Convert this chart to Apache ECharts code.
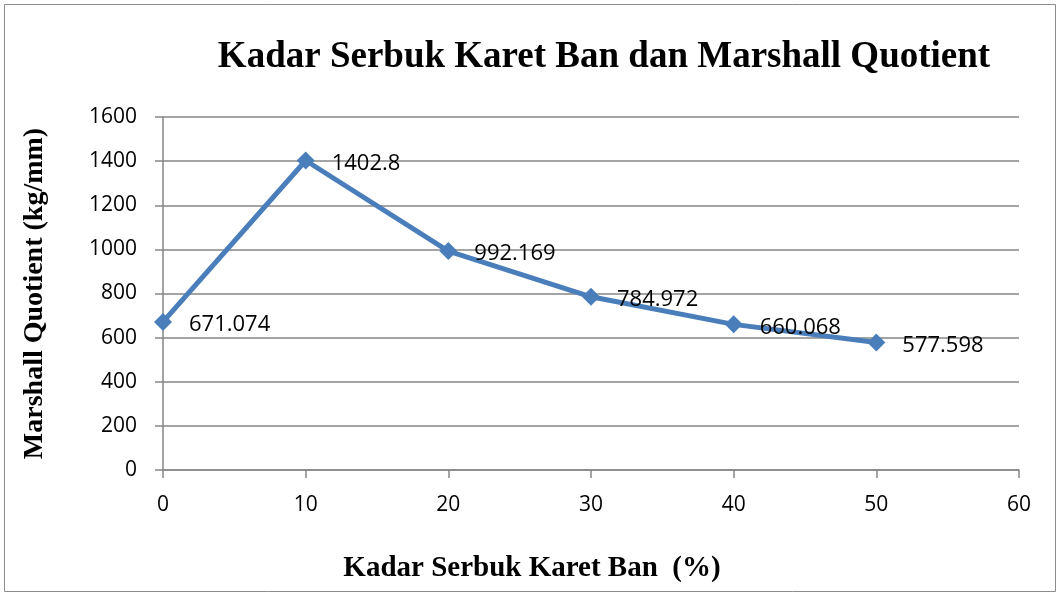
<!DOCTYPE html>
<html>
<head>
<meta charset="utf-8">
<script src="https://cdn.jsdelivr.net/npm/echarts@6/dist/echarts.min.js"></script>
<style>
html, body { margin: 0; padding: 0; background: #fff; }
#chart { width: 1060px; height: 594px; }
</style>
</head>
<body>
<div id="chart"></div>
<script>
var kadar = [0, 10, 20, 30, 40, 50];
var quotient = [671.074, 1402.8, 992.169, 784.972, 660.068, 577.598];

var chart = echarts.init(document.getElementById('chart'));
var points = [];
for (var i = 0; i < kadar.length; i++) {
    points.push([kadar[i], quotient[i]]);
}
var serif = '"Liberation Serif", "Times New Roman", serif';
var sans = '"Open Sans", Lato, sans-serif';

chart.setOption({
    backgroundColor: '#fff',
    title: {
        text: 'Kadar Serbuk Karet Ban dan Marshall Quotient',
        left: 599,
        textAlign: 'center',
        top: 34,
        textStyle: { fontFamily: serif, fontWeight: 'bold', fontSize: 37, color: '#000' }
    },
    graphic: [{
        type: 'rect',
        shape: { x: 4.5, y: 4.5, width: 1051, height: 587 },
        style: { fill: 'none', stroke: '#8c8c8c', lineWidth: 1 }
    }],
    grid: { left: 163, right: 41, top: 117, bottom: 124 },
    xAxis: {
        type: 'value',
        min: 0,
        max: 60,
        interval: 10,
        name: 'Kadar Serbuk Karet Ban  (%)',
        nameLocation: 'middle',
        nameGap: 84,
        nameTextStyle: { fontFamily: serif, fontWeight: 'bold', fontSize: 29, color: '#000', padding: [0, 118, 0, 0] },
        axisLine: { show: true, lineStyle: { color: '#868686', width: 1.5 } },
        axisTick: { show: true, length: 8, inside: false, lineStyle: { color: '#868686', width: 1.5 } },
        axisLabel: { fontFamily: sans, fontSize: 21, color: '#000', margin: 25 },
        splitLine: { show: false }
    },
    yAxis: {
        type: 'value',
        min: 0,
        max: 1600,
        interval: 200,
        name: 'Marshall Quotient (kg/mm)',
        nameLocation: 'middle',
        nameGap: 114,
        nameTextStyle: { fontFamily: serif, fontWeight: 'bold', fontSize: 28, color: '#000' },
        axisLine: { show: true, lineStyle: { color: '#868686', width: 1.5 } },
        axisTick: { show: true, length: 8, lineStyle: { color: '#868686', width: 1.5 } },
        axisLabel: {
            fontFamily: sans, fontSize: 21, color: '#000', margin: 26,
            formatter: function (v) { return String(v); }
        },
        splitLine: { show: true, lineStyle: { color: '#868686', width: 1.5 } }
    },
    series: [{
        type: 'line',
        data: points,
        symbol: 'diamond',
        symbolSize: 18,
        lineStyle: { color: '#4A7EBB', width: 5 },
        itemStyle: { color: '#4A7EBB' },
        label: {
            show: true,
            position: 'right',
            distance: 17,
            offset: [0, 3],
            fontFamily: sans,
            fontSize: 22,
            color: '#000',
            formatter: function (p) { return p.value[1]; }
        },
        animation: false
    }]
});
window.onresize = function () {
    chart.resize();
};
</script>
</body>
</html>
